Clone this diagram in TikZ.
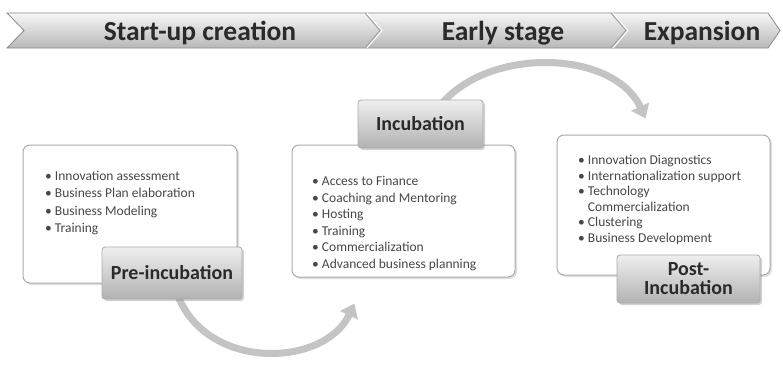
\documentclass[tikz,border=0pt]{standalone}
\usepackage{fontspec}
\setmainfont{Carlito}
\definecolor{BannerTop}{HTML}{F6F6F6}
\definecolor{BannerBottom}{HTML}{B8B8B8}
\definecolor{BannerLine}{HTML}{8A8A8A}
\definecolor{LabelTop}{HTML}{EFEFEF}
\definecolor{LabelBottom}{HTML}{B2B2B2}
\definecolor{BoxLine}{HTML}{ABABAB}
\definecolor{ArcGray}{HTML}{C4C4C4}
\definecolor{TextDark}{HTML}{2A2A2A}
\usetikzlibrary{arrows.meta,shadows,backgrounds}
\tikzset{
  stagetext/.style={font=\fontsize{27.5}{30}\selectfont\bfseries, text=TextDark, inner sep=0pt, anchor=base},
  listbox/.style={draw=BoxLine, line width=1pt, rounded corners=7pt, fill=white, inner sep=0pt, drop shadow={opacity=0.25, shadow xshift=2pt, shadow yshift=-2pt}},
  phasebox/.style={draw=BoxLine, line width=0.8pt, rounded corners=3pt, top color=LabelTop, bottom color=LabelBottom, align=center, inner sep=0pt, font=\fontsize{20}{19}\selectfont\bfseries, text=TextDark, drop shadow={opacity=0.35, shadow xshift=2pt, shadow yshift=-2pt}},
  itemlist/.style={align=left, inner sep=0pt, anchor=north west, font=\fontsize{13.5}{16.6}\selectfont, text=black!72},
  flowarc/.style={-{Triangle[width=19pt,length=13pt]}, line width=7pt, draw=ArcGray}
}
\begin{document}
\begin{tikzpicture}[x=1pt,y=-1pt]
% stage banner
\path[draw=BannerLine, line width=0.8pt, top color=BannerTop, bottom color=BannerBottom]
  (7,13) -- (768,13) -- (780,30.5) -- (768,48) -- (7,48) -- (24,30.5) -- cycle;
\draw[BannerLine!80, line width=1pt] (365,13) -- (380,30.5) -- (365,48);
\draw[white, line width=1pt] (367,13) -- (382,30.5) -- (367,48);
\draw[BannerLine!80, line width=1pt] (611,13) -- (626,30.5) -- (611,48);
\draw[white, line width=1pt] (613,13) -- (628,30.5) -- (613,48);
\node[stagetext] (creation) at (200,40) {Start-up creation};
\node[stagetext] (early) at (503,40) {Early stage};
\node[stagetext] (expansion) at (702,40) {Expansion};

% support boxes
\node[listbox, minimum width=214pt, minimum height=138pt] (preList) at (130,214) {};
\node[listbox, minimum width=223pt, minimum height=132pt] (incList) at (403.5,211) {};
\node[listbox, minimum width=213pt, minimum height=140pt] (postList) at (663.5,205) {};

\node[itemlist, font=\fontsize{13.5}{17.3}\selectfont] (preItems) at (45,171) {%
  \textbullet\ Innovation assessment\\
  \textbullet\ Business Plan elaboration\\
  \textbullet\ Business Modeling\\
  \textbullet\ Training};
\node[itemlist] (incItems) at (312,176) {%
  \textbullet\ Access to Finance\\
  \textbullet\ Coaching and Mentoring\\
  \textbullet\ Hosting\\
  \textbullet\ Training\\
  \textbullet\ Commercialization\\
  \textbullet\ Advanced business planning};
\node[itemlist, font=\fontsize{13.5}{15.6}\selectfont] (postItems) at (578,155) {%
  \textbullet\ Innovation Diagnostics\\
  \textbullet\ Internationalization support\\
  \textbullet\ Technology\\
  \hphantom{\textbullet\ }Commercialization\\
  \textbullet\ Clustering\\
  \textbullet\ Business Development};

% phase labels
\node[phasebox, minimum width=125pt, minimum height=48pt] (incLabel) at (420.5,124) {Incubation};
\node[phasebox, minimum width=140pt, minimum height=52pt] (preLabel) at (172,273) {Pre-incubation};
\node[phasebox, minimum width=143pt, minimum height=48pt] (postLabel) at (688.5,279) {Post-\\Incubation};

% curved arrows behind the boxes
\begin{scope}[on background layer]
\path[fill=white] (0,0) rectangle (783,363);
\draw[flowarc] ([xshift=8pt]incLabel.center) .. controls (465,45) and (612,45) .. ([xshift=-18pt,yshift=16pt]postList.north);
\draw[flowarc] (preLabel.center) .. controls (186,372) and (322,372) .. ([xshift=-49pt,yshift=-26pt]incList.south);
\end{scope}
\end{tikzpicture}
\end{document}
